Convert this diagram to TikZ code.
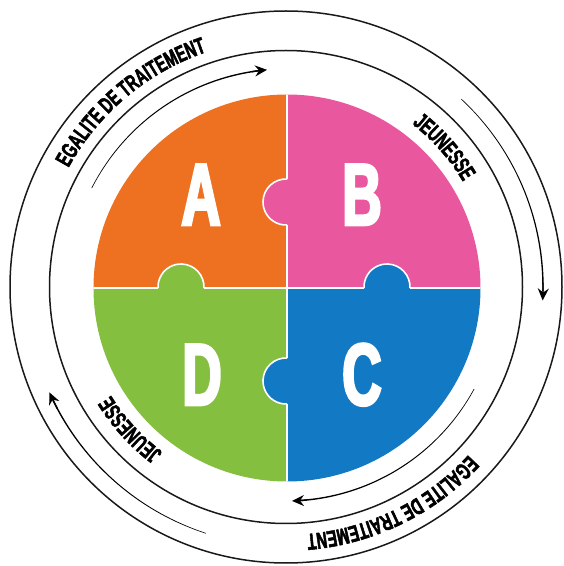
\documentclass[tikz,border=0pt]{standalone}
\usepackage{fontspec}
\usetikzlibrary{decorations.text,arrows.meta}
\newfontfamily\ringfont[FakeStretch=0.63,FakeBold=2.2]{Liberation Sans Bold}
\newfontfamily\bigfont[FakeStretch=0.62,FakeBold=3]{Liberation Sans Bold}
\definecolor{porange}{HTML}{EE7122}
\definecolor{ppink}{HTML}{E9579E}
\definecolor{pblue}{HTML}{1279C4}
\definecolor{pgreen}{HTML}{85BF3F}
\tikzset{
  sep/.style={draw=white,line width=1.6pt},
  ringline/.style={draw=black!90,line width=1.5pt},
  bigletter/.style={anchor=base,text=white,font=\bigfont\fontsize{88}{88}\selectfont,inner sep=0pt},
  ringtext/.style={decorate,decoration={text along path,text align=center,
     text={|\ringfont\fontsize{23}{23}\selectfont|#1}}},
}
\newcommand\ringarrow[3]{% radius, start angle, end angle (tip)
  \fill[black] plot[domain=#2:{#3+2},samples=60] (\x:{#1-0.3-0.45*(\x-#2)/(#3-#2)})
     -- plot[domain={#3+2}:#2,samples=60] (\x:{#1+0.3+0.45*(\x-#2)/(#3-#2)}) -- cycle;
  \draw[line width=1.4pt,-{Stealth[length=12pt,width=11pt,inset=4pt]}]
     ({#3+4}:#1) arc[start angle={#3+4},end angle=#3,radius=#1];
}
\begin{document}
\begin{tikzpicture}[x=1pt,y=1pt]
\useasboundingbox (0,0) rectangle (564,566);
\coordinate (O) at (287,278);
\coordinate (C) at (286,279);
% puzzle disc
\begin{scope}
  \clip (O) circle[radius=193.5];
  \fill[porange] (O) rectangle ++(-200,200);
  \fill[ppink] (O) rectangle ++(200,200);
  \fill[pblue] (O) rectangle ++(200,-200);
  \fill[pgreen] (O) rectangle ++(-200,-200);
  \draw[sep] ([xshift=-200pt]O) -- ([xshift=200pt]O);
  \draw[sep] ([yshift=-200pt]O) -- ([yshift=200pt]O);
  % tabs
  \fill[ppink] (286,364) circle[radius=23];
  \draw[sep] (286,364) ++(87.5:23) arc[start angle=87.5,end angle=272.5,radius=23];
  \fill[pblue] (286,185) circle[radius=23];
  \draw[sep] (286,185) ++(87.5:23) arc[start angle=87.5,end angle=272.5,radius=23];
  \fill[pgreen] (181,279) circle[radius=23];
  \draw[sep] (181,279) ++(-2.5:23) arc[start angle=-2.5,end angle=182.5,radius=23];
  \fill[pblue] (387,279) circle[radius=23];
  \draw[sep] (387,279) ++(-2.5:23) arc[start angle=-2.5,end angle=182.5,radius=23];
\end{scope}
\node[bigletter] (A) at (201,341) {A};
\node[bigletter] (B) at (362,341) {B};
\node[bigletter] (D) at (202,161) {D};
\node[bigletter] (Cl) at (362,161) {C};
% rings
\begin{scope}[shift={(C)}]
  \draw[ringline] (0,0) circle[radius=276];
  \draw[ringline] (0,0) circle[radius=236.5];
  \path[ringtext={EGALITE DE TRAITEMENT}] (165:248) arc[start angle=165,end angle=95,radius=248];
  \path[ringtext={EGALITE DE TRAITEMENT}] (-28.9:248) arc[start angle=-28.9,end angle=-98.9,radius=248];
  \path[ringtext={JEUNESSE}] (76.5:206) arc[start angle=76.5,end angle=6.5,radius=206];
  \path[ringtext={JEUNESSE}] (257.5:206) arc[start angle=257.5,end angle=187.5,radius=206];
  \ringarrow{218}{153}{95}
  \ringarrow{257}{47}{-3}
  \ringarrow{214}{-28.5}{-88.4}
  \ringarrow{259}{252}{204}
\end{scope}
\end{tikzpicture}
\end{document}
